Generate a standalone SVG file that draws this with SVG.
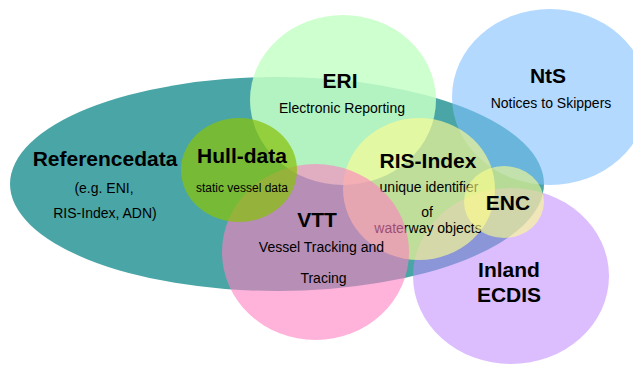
<svg xmlns="http://www.w3.org/2000/svg" width="633" height="365" viewBox="0 0 633 365">
<style>
text{font-family:"Liberation Sans",Arial,sans-serif;fill:#000;text-anchor:middle}
.t{font-size:21px;font-weight:bold}
.s{font-size:14px}
.xs{font-size:12px}
.ref{fill:#4AA6A6}
.nts{fill:#80C0FF;fill-opacity:0.6}
.eri{fill:#C6FFC6;fill-opacity:0.85}
.ecd{fill:#C088FF;fill-opacity:0.55}
.ris{fill:#FCFB91;fill-opacity:0.66}
.vtt{fill:#FF7FC1;fill-opacity:0.6}
.hull{fill:#88C20A;fill-opacity:0.72}
.enc{fill:#FFFF8C;fill-opacity:0.6}
</style>
<g id="referencedata">
<ellipse class="ref" cx="277" cy="184" rx="267" ry="107"/>
<text class="t" x="105" y="166">Referencedata</text>
<text class="s" x="104" y="193">(e.g. ENI,</text>
<text class="s" x="105" y="218">RIS-Index, ADN)</text>
</g>
<g id="nts">
<ellipse class="nts" cx="550" cy="97" rx="98" ry="88"/>
<text class="t" x="548" y="83">NtS</text>
<text class="s" x="551" y="108">Notices to Skippers</text>
</g>
<g id="eri">
<ellipse class="eri" cx="343" cy="100" rx="93" ry="85"/>
<text class="t" x="340" y="88">ERI</text>
<text class="s" x="342" y="113">Electronic Reporting</text>
</g>
<g id="inland-ecdis">
<ellipse class="ecd" cx="511" cy="276" rx="98" ry="88"/>
<text class="t" x="509" y="277">Inland</text>
<text class="t" x="509" y="302">ECDIS</text>
</g>
<g id="ris-index">
<ellipse class="ris" cx="419" cy="189" rx="76" ry="71"/>
<text class="t" x="428" y="168">RIS-Index</text>
<text class="s" x="429" y="192">unique identifier</text>
<text class="s" x="427" y="217">of</text>
<text class="s" x="428" y="233">waterway objects</text>
</g>
<g id="vtt">
<ellipse class="vtt" cx="315.5" cy="252" rx="93.5" ry="88"/>
<text class="t" x="317" y="227">VTT</text>
<text class="s" x="321.5" y="252">Vessel Tracking and</text>
<text class="s" x="323.5" y="283">Tracing</text>
</g>
<g id="hull-data">
<ellipse class="hull" cx="239" cy="170" rx="58" ry="52"/>
<text class="t" x="242" y="163">Hull-data</text>
<text class="xs" x="242" y="192">static vessel data</text>
</g>
<g id="enc">
<ellipse class="enc" cx="504" cy="202" rx="40" ry="36"/>
<text class="t" x="508" y="210">ENC</text>
</g>
</svg>
